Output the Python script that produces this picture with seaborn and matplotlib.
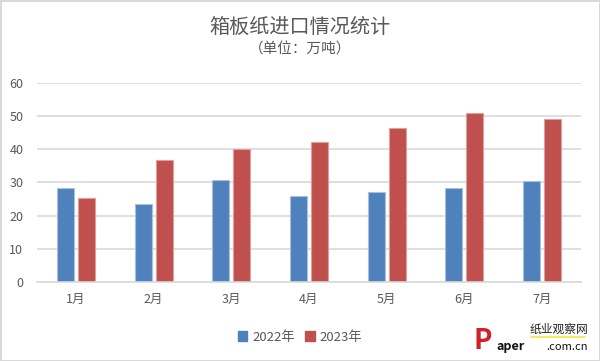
import pandas as pd
import matplotlib
matplotlib.use("Agg")
import matplotlib.pyplot as plt
from matplotlib.lines import Line2D
import seaborn as sns

# 数据
months = ["1月", "2月", "3月", "4月", "5月", "6月", "7月"]
series_names = ["2022年", "2023年"]
values_2022 = [28.3, 23.4, 30.7, 26.0, 27.2, 28.4, 30.4]
values_2023 = [25.3, 36.7, 40.1, 42.3, 46.6, 51.0, 49.2]
y_ticks = [0, 10, 20, 30, 40, 50, 60]

df = pd.DataFrame({
    "月份": months * 2,
    "年份": [series_names[0]] * len(months) + [series_names[1]] * len(months),
    "进口量": values_2022 + values_2023,
})

sns.set_theme(style="white")
plt.rcParams["font.family"] = ["Noto Sans CJK SC", "DejaVu Sans"]

text_color = "#595959"
colors = {"2022年": "#4F81BD", "2023年": "#C0504D"}
edges = ["#A7C0DE", "#DE9F9D"]

fig = plt.figure(figsize=(6, 3.61), dpi=100)
fig.patch.set_edgecolor("#D9D9D9")
fig.patch.set_linewidth(2)
ax = fig.add_axes([0.062, 0.220, 0.906, 0.549])

sns.barplot(data=df, x="月份", y="进口量", hue="年份", palette=colors,
            width=0.54, gap=0.2, ax=ax, legend=False, saturation=1)

for i, container in enumerate(ax.containers):
    for bar in container:
        bar.set_edgecolor(edges[i])
        bar.set_linewidth(0.8)

ax.set_ylim(0, 60)
ax.set_yticks(y_ticks)
ax.set_xlim(-0.5, len(months) - 0.5)
ax.yaxis.grid(True, color="#D9D9D9", linewidth=1.2)
ax.set_axisbelow(True)
for s in ["top", "right", "left"]:
    ax.spines[s].set_visible(False)
ax.spines["bottom"].set_color("#D9D9D9")
ax.spines["bottom"].set_linewidth(1.2)
ax.tick_params(axis="both", length=0, colors=text_color, labelsize=9)
ax.tick_params(axis="x", pad=8)
ax.tick_params(axis="y", pad=10)
ax.set_xlabel("")
ax.set_ylabel("")

fig.text(0.5, 0.925, "箱板纸进口情况统计", ha="center", va="center",
         fontsize=14.5, color=text_color)
fig.text(0.5, 0.862, "（单位：万吨）", ha="center", va="center",
         fontsize=10.5, color=text_color)

# 图例
handles = [plt.Rectangle((0, 0), 1, 1, color=colors[n]) for n in series_names]
fig.legend(handles, series_names, loc="center", bbox_to_anchor=(0.5, 0.066),
           ncol=2, frameon=False, fontsize=9.5, labelcolor=text_color,
           handlelength=0.7, handleheight=0.7, handletextpad=0.4,
           columnspacing=0.8)

# 水印
fig.text(0.98, 0.089, "纸业观察网", ha="right", va="center",
         fontsize=8.5, color="#222222")
fig.add_artist(Line2D([0.885, 0.975], [0.066, 0.066], color="#F5E642",
                      linewidth=1.2, transform=fig.transFigure))
fig.text(0.79, 0.055, "P", ha="left", va="center", fontsize=20,
         color="#D0202A", fontweight="bold", style="italic")
fig.text(0.828, 0.039, "aper", ha="left", va="center", fontsize=9,
         color="#111111", fontweight="bold", style="italic")
fig.text(0.98, 0.039, ".com.cn", ha="right", va="center", fontsize=8,
         color="#111111")

fig.savefig("out.png", dpi=100)
